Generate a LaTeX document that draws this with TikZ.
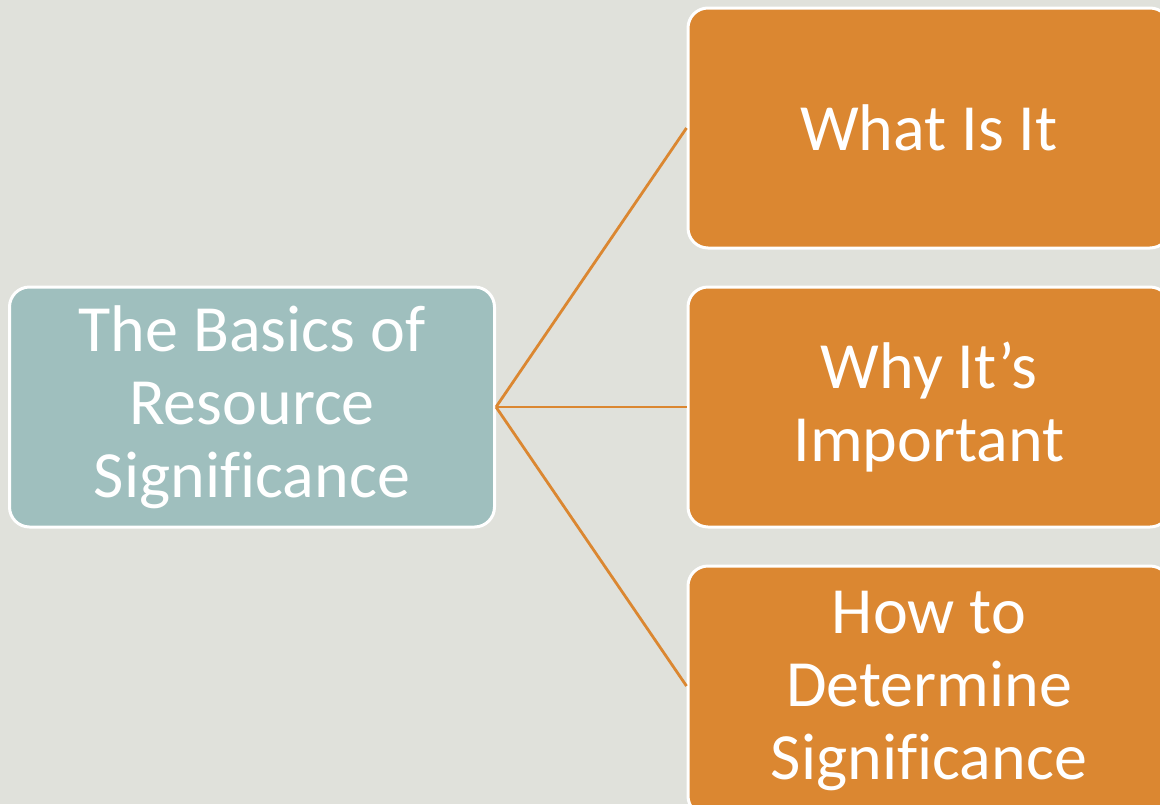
\documentclass[tikz,border=0pt]{standalone}
\usepackage{fontspec}
\setmainfont{Carlito}[Ligatures=NoCommon]
\usetikzlibrary{calc}
\definecolor{bg}{HTML}{E0E1DB}
\definecolor{teal}{HTML}{9FBFBE}
\definecolor{orng}{HTML}{DB8731}
\begin{document}
\begin{tikzpicture}[x=1pt,y=-1pt,
  box/.style={draw=white,line width=3pt,rounded corners=20pt,text=white,
    align=center,inner sep=0pt,minimum width=482pt,minimum height=240pt,
    font=\fontsize{66}{73}\selectfont},
  conn/.style={draw=orng,line width=2.8pt}]
\useasboundingbox (0,0) rectangle (1160,804);
\fill[bg] (0,0) rectangle (1160,804);
\node[box,fill=teal,minimum width=485pt] (root) at (252,407) {The Basics of\\Resource\\Significance};
\node[box,fill=orng] (a) at (929,128) {What Is It};
\node[box,fill=orng] (b) at (929,407) {Why It’s\\Important};
\node[box,fill=orng,minimum height=250pt] (c) at (929,691) {How to\\Determine\\Significance};
\draw[conn] (root.east) -- (a.west);
\draw[conn] (root.east) -- (b.west);
\draw[conn] (root.east) -- ($(c.west)+(0,-5)$);
\end{tikzpicture}
\end{document}
